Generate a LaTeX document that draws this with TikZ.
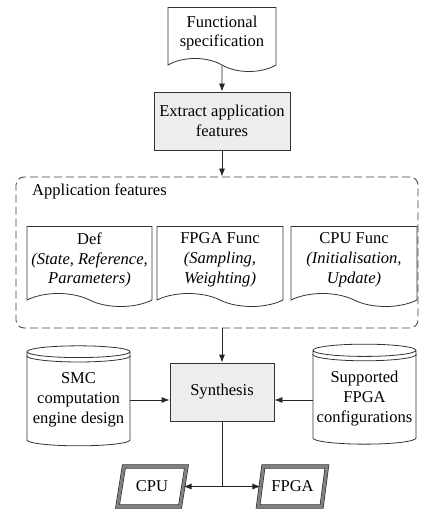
\documentclass[tikz,border=0pt]{standalone}
\usepackage{fontspec}
\setmainfont{Liberation Serif}
\usetikzlibrary{shapes.geometric, shapes.symbols, calc, arrows.meta}

\begin{document}
\begin{tikzpicture}[x=1bp, y=-1bp, font=\fontsize{16.6}{20}\selectfont,
        prec/.style={<-, >={Latex[length=8bp, width=6bp]}, draw=black!85, line width=0.8bp}]
        \tikzset{tache/.style={rectangle, minimum height=58bp, draw=black!80, fill=black!7, line width=0.8bp, align=center}};
        \tikzset{doc/.style={tape, tape bend top=none, tape bend bottom=out and in, tape bend height=13bp, draw=black!80, line width=0.8bp, align=center, inner sep=2bp}};
        \tikzset{base/.style={cylinder, shape border rotate=90, aspect=0.12, minimum width=103bp, minimum height=100bp, draw=black!80, line width=0.8bp, align=center}};
        \tikzset{sortie/.style={trapezium, trapezium left angle=76, trapezium right angle=104, trapezium stretches=true, minimum width=69bp, minimum height=40bp, draw=black!85, double=black!50, double distance=3bp, line width=0.6bp}};
        \tikzset{groupe/.style={rectangle, rounded corners=8bp, dash pattern=on 8bp off 4bp, draw=black!75, line width=0.8bp, minimum width=402bp, minimum height=151bp}};

        \useasboundingbox (0,0) rectangle (421,514);

        \node[doc, minimum width=108bp, minimum height=64bp] (spec) at (222, 33) {Functional\\specification};
        \node[tache, minimum width=136bp] (extract) at (222, 121) {Extract application\\features}
            edge[prec] (spec);

        % features
        \node[groupe] (app) at (217, 252.5) {};
        \node[anchor=west, inner sep=0] (titre) at (32, 191) {Application features};
        \draw[prec] (extract.south |- app.north) -- (extract.south);
        \node[doc, minimum width=125bp, minimum height=80bp] (def) at (89.5, 260) {Def\\\textit{(State, Reference,}\\\textit{Parameters)}};
        \node[doc, minimum width=126bp, minimum height=80bp] (fpgafunc) at (220, 260) {FPGA Func\\\textit{(Sampling,}\\\textit{Weighting)}};
        \node[doc, minimum width=126bp, minimum height=80bp] (cpufunc) at (354, 260) {CPU Func\\\textit{(Initialisation,}\\\textit{Update)}};

        % synthesis
        \node[tache, minimum width=104bp] (synth) at (222, 392) {Synthesis};
        \draw[prec] (synth.north) -- (synth.north |- app.south);
        \node[base] (smc) at (78.5, 400) {SMC\\computation\\engine design};
        \node[base] (supp) at (364.5, 398.5) {Supported\\FPGA\\configurations};
        \foreach \b in {smc, supp}
            \draw[black!80, line width=0.8bp] let \p1=(\b.west), \p2=(\b.east), \p3=(\b.top), \p4=(\b.before top) in
                ($(\x1,\y4)+(0,-4bp)$) arc[start angle=180, end angle=360, x radius={(\x2-\x1)/2}, y radius={\y3-\y4}];
        \draw[prec] (synth.west |- smc.east) -- (smc.east);
        \draw[prec] (synth.east |- smc.east) -- (smc.east -| supp.west);

        % outputs
        \node[sortie] (cpu) at (152, 486.5) {CPU};
        \node[sortie] (fpga) at (292.5, 486.5) {FPGA};
        \coordinate (j) at (synth.south |- cpu.east);
        \draw[black!85, line width=0.8bp] (synth.south) -- (j);
        \draw[prec] (cpu.east) -- (j);
        \draw[prec] (fpga.west) -- (j);
\end{tikzpicture}
\end{document}
